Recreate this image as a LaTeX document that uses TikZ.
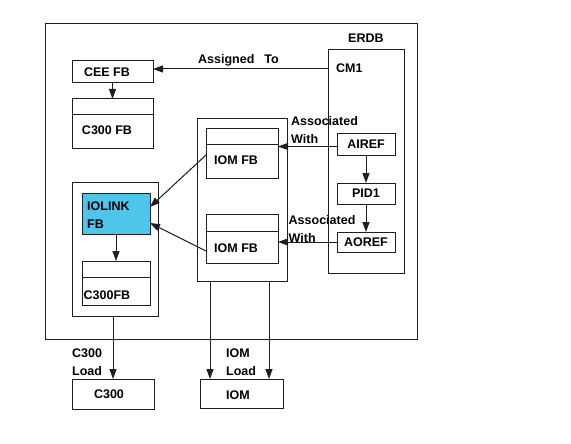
\documentclass[tikz,border=0pt]{standalone}
\usepackage{fontspec}
\setmainfont{Liberation Sans}
\usetikzlibrary{arrows.meta,calc}
\definecolor{linkblue}{RGB}{78,197,235}
\definecolor{linegray}{RGB}{30,30,30}
\tikzset{
  box/.style={draw=linegray, line width=1pt, inner sep=0pt, outer sep=0pt,
    font=\bfseries\fontsize{12.5}{18}\selectfont},
  lbl/.style={font=\bfseries\fontsize{12.5}{18}\selectfont, inner sep=0pt, align=left},
  arr/.style={draw=linegray, line width=1pt, -{Triangle[length=10pt,width=7pt]}},
  ln/.style={draw=linegray, line width=1pt}
}
\begin{document}
\begin{tikzpicture}[x=1pt,y=-1pt]
\useasboundingbox (0,0) rectangle (571,444);

% ERDB and CM1
\node[box, minimum width=372pt, minimum height=315pt] (erdb) at (231,181.5) {};
\node[lbl, anchor=base west] (erdbtxt) at (348,43) {ERDB};
\node[box, minimum width=76pt, minimum height=223pt] (cm) at (366,161.5) {};
\node[lbl, anchor=base west] (cmtxt) at (336,73) {CM1};
\node[box, minimum width=58pt, minimum height=21pt] (airef) at (366,144.5) {AIREF};
\node[box, minimum width=58pt, minimum height=21pt] (pid) at (366,193.5) {PID1};
\node[box, minimum width=58pt, minimum height=20pt] (aoref) at (366,242) {AOREF};

% CEE side
\node[box, minimum width=81pt, minimum height=22pt] (ceefb) at (112.5,72) {};
\node[lbl] (ceefbtxt) at (107,72.5) {CEE FB};
\node[box, minimum width=81pt, minimum height=49pt] (c300fb) at (112.5,123.5) {};
\draw[ln] ($(c300fb.north west)+(0,16)$) -- ($(c300fb.north east)+(0,16)$);
\node[lbl] (c300fbtxt) at (107,130) {C300 FB};

% IOM blocks
\node[box, minimum width=90pt, minimum height=162pt] (iomgrp) at (242,200) {};
\node[box, minimum width=72pt, minimum height=49pt] (iomfbA) at (242,153.5) {};
\draw[ln] ($(iomfbA.north west)+(0,15)$) -- ($(iomfbA.north east)+(0,15)$);
\node[lbl, anchor=west] (iomfbAtxt) at (214,160.5) {IOM FB};
\node[box, minimum width=72pt, minimum height=49pt] (iomfbB) at (242,238.5) {};
\draw[ln] ($(iomfbB.north west)+(0,17)$) -- ($(iomfbB.north east)+(0,17)$);
\node[lbl, anchor=west] (iomfbBtxt) at (214,248) {IOM FB};

% IOLINK block
\node[box, minimum width=86pt, minimum height=134pt] (iolinkgrp) at (115,249) {};
\node[box, fill=linkblue, minimum width=68pt, minimum height=41pt] (iolinkfb) at (116,213.5) {};
\node[lbl, anchor=base west] (iolinktxt) at (87,228.3) {IOLINK\\FB};
\node[box, minimum width=68pt, minimum height=44pt] (c300fbB) at (116,283) {};
\draw[ln] ($(c300fbB.north west)+(0,16)$) -- ($(c300fbB.north east)+(0,16)$);
\node[lbl, anchor=west] (c300fbBtxt) at (83.5,295.7) {C300FB};

% loads
\node[box, minimum width=82pt, minimum height=30pt] (c300) at (113,394) {};
\node[lbl] (c300txt) at (109,394.7) {C300};
\node[box, minimum width=83pt, minimum height=29pt] (iom) at (241.5,393.5) {};
\node[lbl] (iomtxt) at (238,395) {IOM};
\coordinate (iomloadA) at (210,0);
\coordinate (iomloadB) at (269,0);
\coordinate (assignY) at (0,69);

% connectors
\draw[arr] (cm.west |- assignY) -- (ceefb.east |- assignY);
\node[lbl, anchor=base west] (assigned) at (198,64) {Assigned\hspace{10pt}To};
\draw[arr] (ceefb.south) -- (c300fb.north);
\draw[arr] ($(airef.west)+(0,2)$) -- ($(airef.west -| iomfbA.east)+(0,2)$);
\draw[arr] (aoref.west) -- (aoref.west -| iomfbB.east);
\draw[arr] (airef.south) -- (pid.north);
\draw[arr] (pid.south) -- (aoref.north);
\node[lbl, anchor=base west] (assocA) at (291,143.3) {Associated\\With};
\node[lbl, anchor=base west] (assocB) at (288.5,242.7) {Associated\\With};
\draw[arr] ($(iomfbA.north west)+(0,26)$) -- ($(iolinkfb.north east)+(0,14)$);
\draw[arr] ($(iomfbB.north west)+(0,37)$) -- ($(iolinkfb.north east)+(0,30)$);
\draw[arr] (iolinkfb.south -| c300fbB.north) -- (c300fbB.north);
\draw[arr] (iolinkgrp.south -| c300.north) -- (c300.north);
\draw[arr] (iomgrp.south -| iomloadA) -- (iom.north -| iomloadA);
\draw[arr] (iomgrp.south -| iomloadB) -- (iom.north -| iomloadB);
\node[lbl, anchor=base west] (c300load) at (72,375) {C300\\Load};
\node[lbl, anchor=base west] (iomload) at (226,375.5) {IOM\\Load};

\end{tikzpicture}
\end{document}
